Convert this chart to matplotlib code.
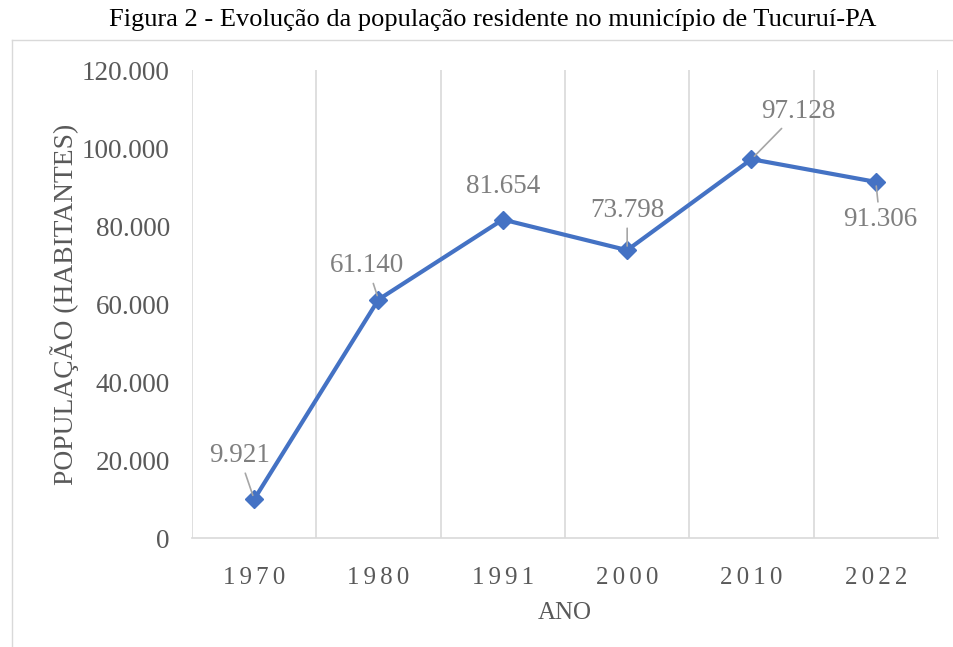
import matplotlib
matplotlib.use('Agg')
import matplotlib.pyplot as plt
from matplotlib.lines import Line2D

anos = ['1970', '1980', '1991', '2000', '2010', '2022']
populacao = [9921, 61140, 81654, 73798, 97128, 91306]
rotulos = ['9.921', '61.140', '81.654', '73.798', '97.128', '91.306']
y_ticks = [0, 20000, 40000, 60000, 80000, 100000, 120000]
y_tick_labels = ['0', '20.000', '40.000', '60.000', '80.000', '100.000', '120.000']

# label offsets in pixels from each point, plus whether a leader line is drawn
offsets = [(-15, 44), (-11, 34), (0, 33), (0, 40), (47, 48), (4, -38)]
leader = [True, True, False, True, True, True]

plt.rcParams['font.family'] = ['Liberation Serif', 'DejaVu Serif']

fig = plt.figure(figsize=(9.54, 6.47), dpi=100)
ax = fig.add_axes([192/954, 1-538/647, (938-192)/954, (538-70)/647])

x = list(range(len(anos)))
ax.plot(x, populacao, color='#4472C4', lw=3, marker='D', ms=9, zorder=3)

ax.set_xlim(-0.5, len(anos)-0.5)
ax.set_ylim(0, 120000)
ax.set_xticks(x)
# Excel draws the year labels with wider letter spacing
ax.set_xticklabels(['\u2006'.join(a) for a in anos])
ax.set_yticks(y_ticks)
ax.set_yticklabels(y_tick_labels)
ax.set_xticks([i + 0.5 for i in range(-1, len(anos))], minor=True)
ax.grid(True, which='minor', axis='x', color='#D9D9D9', lw=1.2)
ax.tick_params(which='both', length=0)
ax.tick_params(axis='x', labelsize=18, labelcolor='#595959', pad=21)
ax.tick_params(axis='y', labelsize=19.5, labelcolor='#595959', pad=16)
for s in ['top', 'right', 'left']:
    ax.spines[s].set_visible(False)
ax.spines['bottom'].set_color('#D9D9D9')
ax.spines['bottom'].set_linewidth(1.2)

for i, (v, t) in enumerate(zip(populacao, rotulos)):
    dx, dy = offsets[i]
    props = dict(arrowstyle='-', color='#A6A6A6', lw=1.2, shrinkA=2, shrinkB=3) if leader[i] else None
    ax.annotate(t, (i, v), xytext=(dx, dy), textcoords='offset pixels',
                ha='center', va='center', fontsize=19.5, color='#7F7F7F',
                arrowprops=props, zorder=4)

ax.set_xlabel('ANO', fontsize=18, color='#595959', labelpad=9)
ax.set_ylabel('POPULAÇÃO (HABITANTES)', fontsize=19.8, color='#595959', labelpad=2)

fig.text(493/954, 1-20/647, 'Figura 2 - Evolução da população residente no município de Tucuruí-PA',
         ha='center', va='center', fontsize=19, color='black')

# chart area border
fig.add_artist(Line2D([12/954, 12/954], [0, 1-40/647], color='#D9D9D9', lw=1))
fig.add_artist(Line2D([12/954, 1], [1-40/647, 1-40/647], color='#D9D9D9', lw=1))

fig.savefig('out.png', dpi=100)
